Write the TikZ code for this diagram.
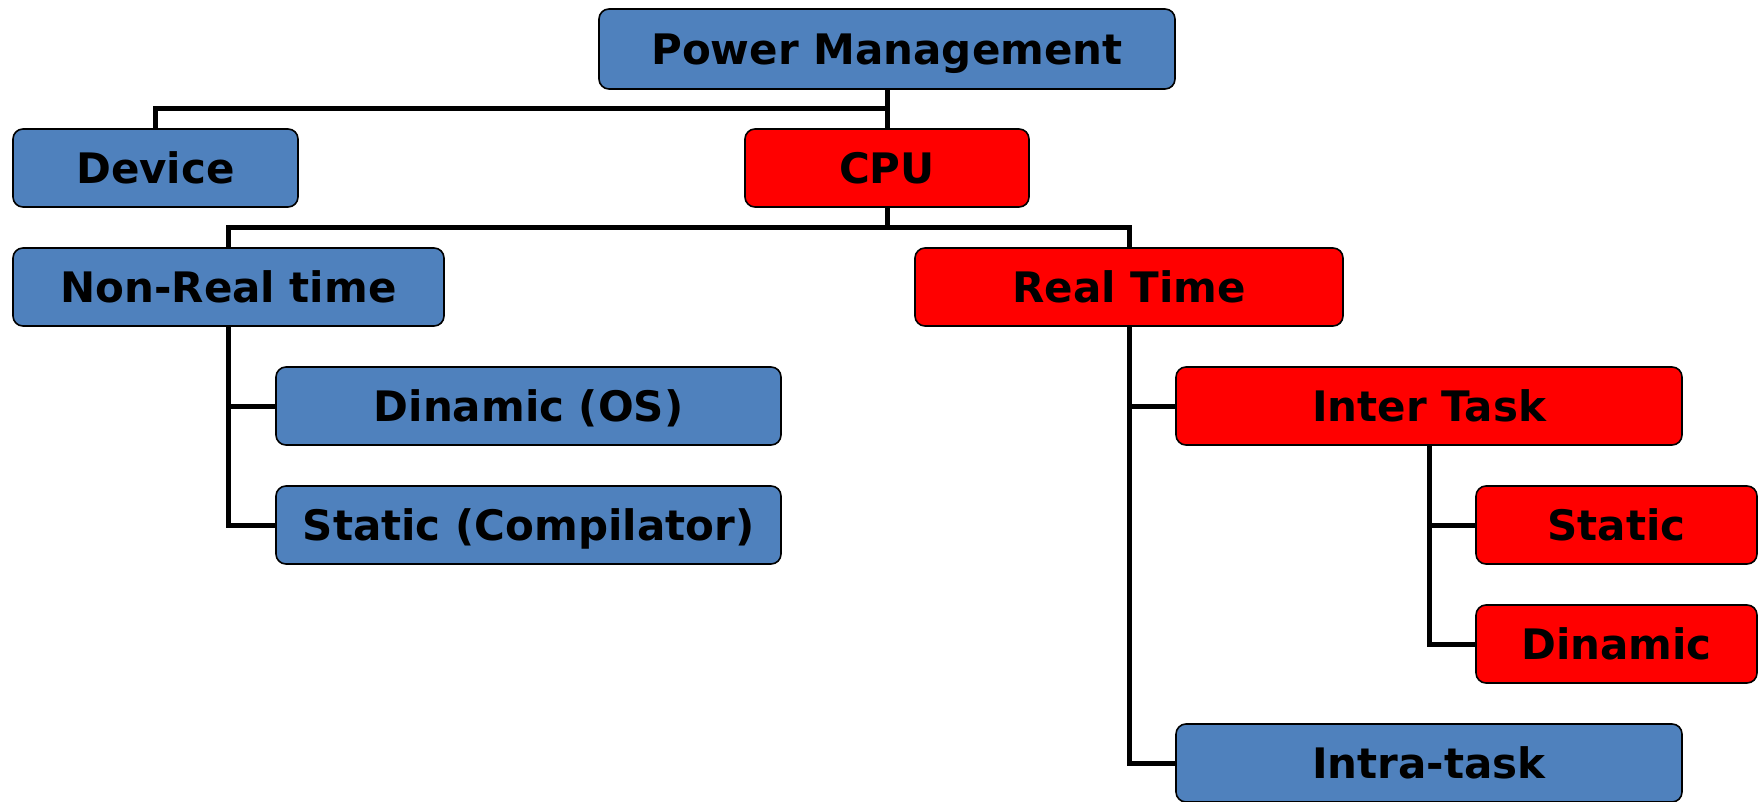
\documentclass[tikz,border=0pt]{standalone}
\usepackage{fontspec}
\setmainfont{DejaVu Sans}
\usetikzlibrary{calc}
\definecolor{boxblue}{HTML}{4F81BD}
\definecolor{boxred}{HTML}{FF0000}
\tikzset{
  box/.style={draw=black, line width=1.6pt, rounded corners=10pt,
    inner sep=0pt, text height=30.5pt, text depth=0pt,
    font=\fontsize{42}{50}\selectfont\bfseries, text=black},
  bluebox/.style={box, fill=boxblue},
  redbox/.style={box, fill=boxred},
  conn/.style={draw=black, line width=5pt, line join=miter}
}
\begin{document}
\begin{tikzpicture}[x=1pt,y=-1pt]
\useasboundingbox (0,0) rectangle (1758,802);
% connectors (behind boxes)
\node[bluebox, minimum width=576pt, minimum height=80pt] (pm) at (887,49) {Power Management};
\node[bluebox, minimum width=285pt, minimum height=78pt] (device) at (155.5,168) {Device};
\node[redbox, minimum width=284pt, minimum height=78pt] (cpu) at (887,168) {CPU};
\node[bluebox, minimum width=431pt, minimum height=78pt] (nonreal) at (228.5,287) {Non-Real time};
\node[redbox, minimum width=428pt, minimum height=78pt] (realtime) at (1129,287) {Real Time};
\node[bluebox, minimum width=505pt, minimum height=78pt] (dinos) at (528.5,406) {Dinamic (OS)};
\node[bluebox, minimum width=505pt, minimum height=78pt] (statcomp) at (528.5,525) {Static (Compilator)};
\node[redbox, minimum width=506pt, minimum height=78pt] (inter) at (1429,406) {Inter Task};
\node[redbox, minimum width=281pt, minimum height=78pt] (static) at (1616.5,525) {Static};
\node[redbox, minimum width=281pt, minimum height=78pt] (dinamic) at (1616.5,644) {Dinamic};
\node[bluebox, minimum width=506pt, minimum height=78pt] (intra) at (1429,763) {Intra-task};
\draw[conn] (pm.south) -- (cpu.north);
\coordinate (b1) at ($(pm.south)!0.5!(cpu.north)$);
\draw[conn] (b1) -| (device.north);
\coordinate (b2) at ($(cpu.south)!0.5!(cpu.south |- realtime.north)$);
\draw[conn] (cpu.south) -- (b2);
\draw[conn] (nonreal.north) |- (b2) -| (realtime.north);
\draw[conn] (nonreal.south) |- (dinos.west);
\draw[conn] (nonreal.south) |- (statcomp.west);
\draw[conn] (realtime.south) |- (inter.west);
\draw[conn] (realtime.south) |- (intra.west);
\draw[conn] (inter.south) |- (static.west);
\draw[conn] (inter.south) |- (dinamic.west);
\end{tikzpicture}
\end{document}
